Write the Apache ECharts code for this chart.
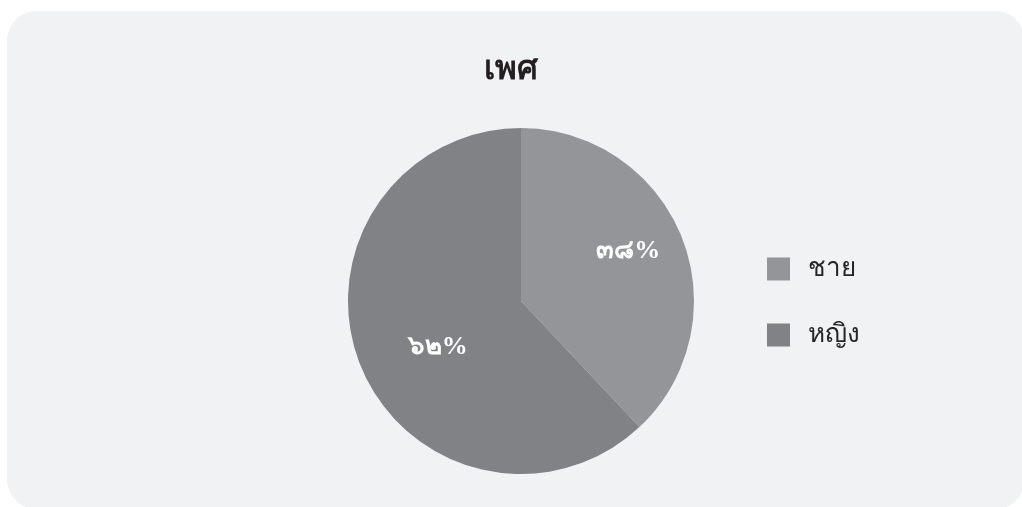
<!DOCTYPE html>
<html>
<head>
<meta charset="utf-8">
<script src="https://cdn.jsdelivr.net/npm/echarts@6/dist/echarts.min.js"></script>
<style>
html,body{margin:0;padding:0;background:#ffffff;}
#chart{width:1022px;height:507px;}
</style>
</head>
<body>
<div id="chart"></div>
<script>
const titleText = 'เพศ';
const categories = ['ชาย', 'หญิง'];
const values = [38, 62];
const valueLabels = ['๓๘%', '๖๒%'];
const colors = ['#939598', '#808285'];

const chart = echarts.init(document.getElementById('chart'), null, {renderer: 'canvas'});
const labelShift = [[24, -17], [0, 13]];

chart.setOption({
  animation: false,
  backgroundColor: '#ffffff',
  graphic: [{
    type: 'rect',
    z: -10,
    silent: true,
    shape: {x: 7, y: 11, width: 1018, height: 498, r: 30},
    style: {fill: '#f1f2f4'}
  }],
  title: {
    text: titleText,
    left: 'center',
    top: 48,
    textStyle: {fontSize: 33, fontWeight: 'bold', color: '#231f20', fontFamily: 'sans-serif'}
  },
  legend: {
    orient: 'vertical',
    left: 767,
    top: 256,
    padding: 0,
    itemWidth: 23,
    itemHeight: 23,
    itemGap: 40,
    icon: 'rect',
    textStyle: {fontSize: 26, color: '#262626', padding: [0, 0, 0, 13], fontFamily: 'sans-serif'},
    data: categories
  },
  series: [{
    type: 'pie',
    center: [521, 301],
    radius: [0, 173],
    startAngle: 90,
    clockwise: true,
    silent: true,
    label: {
      show: true,
      position: 'inside',
      color: '#ffffff',
      fontSize: 26,
      fontWeight: 'bold',
      fontFamily: 'serif',
      formatter: p => valueLabels[p.dataIndex]
    },
    labelLine: {show: false},
    labelLayout: p => ({dx: labelShift[p.dataIndex][0], dy: labelShift[p.dataIndex][1]}),
    itemStyle: {borderWidth: 0},
    data: categories.map((c, i) => ({name: c, value: values[i], itemStyle: {color: colors[i]}}))
  }]
});
</script>
</body>
</html>
